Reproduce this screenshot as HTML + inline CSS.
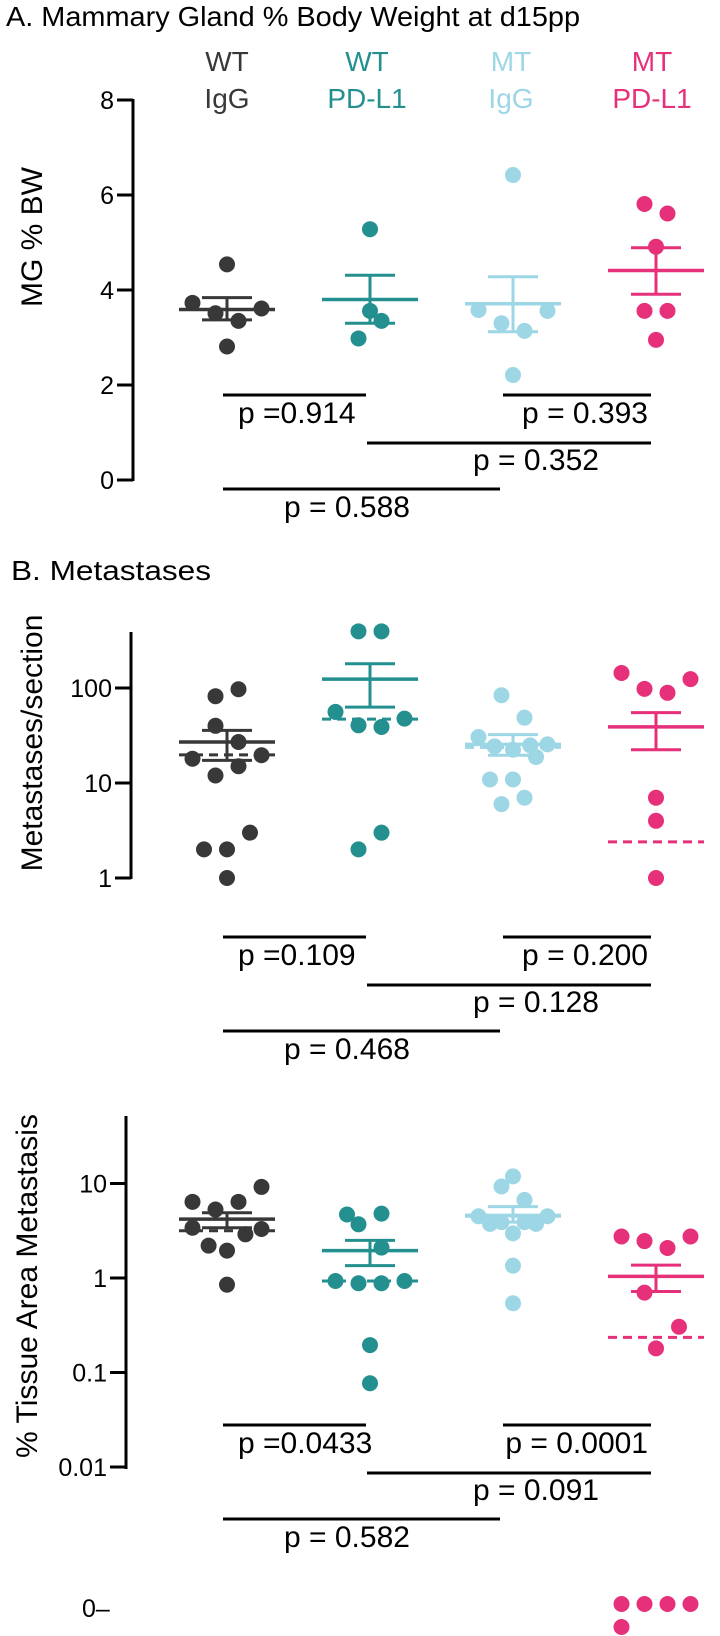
<!DOCTYPE html>
<html><head><meta charset="utf-8">
<style>
html,body{margin:0;padding:0;background:#fff;}
svg{display:block;font-family:"Liberation Sans",Arial,sans-serif;}
</style></head>
<body>
<svg id="fig" width="720" height="1636" viewBox="0 0 720 1636" xmlns="http://www.w3.org/2000/svg">
<text x="6" y="26" font-size="28" textLength="574" lengthAdjust="spacingAndGlyphs">A. Mammary Gland % Body Weight at d15pp</text>
<text x="11" y="580" font-size="28" textLength="200" lengthAdjust="spacingAndGlyphs">B. Metastases</text>
<g font-size="28" text-anchor="middle">
<text x="227" y="71" fill="#383838">WT</text>
<text x="227" y="108" fill="#383838">IgG</text>
<text x="367" y="71" fill="#23908f">WT</text>
<text x="367" y="108" fill="#23908f">PD-L1</text>
<text x="511" y="71" fill="#9dd6e5">MT</text>
<text x="511" y="108" fill="#9dd6e5">IgG</text>
<text x="652" y="71" fill="#e6307a">MT</text>
<text x="652" y="108" fill="#e6307a">PD-L1</text>
</g>
<text transform="translate(42,237) rotate(-90)" font-size="30" text-anchor="middle">MG % BW</text>
<text transform="translate(42,743) rotate(-90)" font-size="30" text-anchor="middle">Metastases/section</text>
<text transform="translate(37,1286) rotate(-90)" font-size="30" text-anchor="middle" textLength="344" lengthAdjust="spacingAndGlyphs">% Tissue Area Metastasis</text>
<g id="plots"></g>
</svg>
<script>
// ---- data ----
const groupNames = ["wt-igg","wt-pdl1","mt-igg","mt-pdl1"];
const colors = ["#383838","#23908f","#9dd6e5","#e6307a"];

const aTicks = [0,2,4,6,8];
const aTickLabels = ["0","2","4","6","8"];
const aWtIgg = [4.54,3.73,3.51,3.61,3.35,2.81];
const aWtPd = [5.28,3.56,3.35,2.98];
const aMtIgg = [6.42,3.58,3.56,3.30,3.14,2.21];
const aMtPd = [5.81,5.61,4.91,3.56,3.56,2.95];
const aMeans = [3.59,3.80,3.71,4.41];
const aSemHi = [3.84,4.31,4.28,4.89];
const aSemLo = [3.37,3.30,3.12,3.91];
const aPvals = ["p =0.914","p = 0.393","p = 0.352","p = 0.588"];

const bTicks = [1,10,100];
const bTickLabels = ["1","10","100"];
const bWtIgg = [97,82,40,27,18,19.6,15,12,3,2,2,1];
const bWtPd = [395,395,56,47.6,40.5,38.9,3,2];
const bMtIgg = [84,48.7,30.5,25.5,24.3,24.9,22.4,18.8,10.9,10.9,7,6];
const bMtPd = [144,124,98,89,7,4,1];
const bMeans = [27,124,25.5,39];
const bSemHi = [35.8,180,32.3,55];
const bSemLo = [17.3,63,19.6,22.4];
const bMedians = [19.8,47,23.7,2.4];
const bPvals = ["p =0.109","p = 0.200","p = 0.128","p = 0.468"];

const cTicks = [0.01,0.1,1,10];
const cTickLabels = ["0.01","0.1","1","10"];
const cWtIgg = [9.2,6.4,6.4,5.3,3.4,3.3,2.9,2.2,1.95,0.85];
const cWtPd = [4.7,4.8,3.7,2.1,0.93,0.88,0.88,0.93,0.195,0.077];
const cMtIgg = [11.9,9.3,6.7,4.5,4.5,3.74,3.9,3.9,3.74,2.97,1.35,0.54];
const cMtPd = [2.75,2.46,2.08,2.75,0.70,0.305,0.18];
const cMtPdZeros = [0,0,0,0,0];
const cMeans = [4.2,1.95,4.6,1.04];
const cSemHi = [4.9,2.5,5.7,1.37];
const cSemLo = [3.4,1.35,3.9,0.72];
const cMedians = [3.16,0.93,4.5,0.235];
const cPvals = ["p =0.0433","p = 0.0001","p = 0.091","p = 0.582"];

// jitter slots (layout, not data)
const jitA = [[0,-3,-1,3,1,0],[0,0,1,-1],[0,-3,3,-1,1,0],[-1,1,0,-1,1,0]];
const jitB = [[1,-1,-1,1,-3,3,1,-1,2,-2,0,0],[-1,1,-3,3,-1,1,1,-1],[-1,1,-3,3,-1.6,1.5,0,2,-2,0,1,-1],[-3,3,-1,1,0,0,0]];
const jitC = [[3,-3,1,-1,-3,3,1.6,-1.6,0,0],[-2,1,-1,1,-3,-1,1,3,0,0],[0,-1,1,-3,3,-2,-1,1,2,0,0,0],[-3,-1,1,3,-1,2,0]];
const jitZero = [-3,-1,1,3,-3];
const rowZero = [0,0,0,0,1];

// ---- drawing ----
const NS="http://www.w3.org/2000/svg";
const root=document.getElementById('plots');
const centers=[227,370,513,656];
const JU=11.5;
function mk(tag,attrs,parent){const e=document.createElementNS(NS,tag);for(const k in attrs)e.setAttribute(k,attrs[k]);(parent||root).appendChild(e);return e;}

const yA = v => 480 - 47.5*v;
const yB = v => 878 - 95*Math.log10(v);
const yC = v => 1278 - 94.5*Math.log10(v);

function axis(panel, ax, top, bottom, ticks, labels, yf){
  const g=mk('g',{});
  
  
  const l=mk('line',{x1:ax,x2:ax,y1:top,y2:bottom,stroke:'#000','stroke-width':3},g);
  
  
  ticks.forEach((t,i)=>{
    const y=yf(t);
    const tk=mk('line',{x1:ax-16,x2:ax,y1:y,y2:y,stroke:'#000','stroke-width':3},g);
    
    
    const tx=mk('text',{x:ax-19,y:y+9,'font-size':25,'text-anchor':'end'},g);
    tx.textContent=labels[i];
    
    
  });
}

function group(panel, gi, vals, jit, yf, mean, hi, lo, med){
  const cx=centers[gi], col=colors[gi];
  const g=mk('g',{});
  
  
  if(med!==undefined && med!==null){
    const m=mk('line',{x1:cx-48,x2:cx+48,y1:yf(med),y2:yf(med),stroke:col,'stroke-width':3,'stroke-dasharray':'9 6'},g);
    
    
  }
  vals.forEach((v,i)=>{
    const c=mk('circle',{cx:cx+jit[i]*JU,cy:yf(v),r:8,fill:col},g);
    
    
  });
  const ml=mk('line',{x1:cx-48,x2:cx+48,y1:yf(mean),y2:yf(mean),stroke:col,'stroke-width':3.5},g);
  
  
  const v=mk('line',{x1:cx,x2:cx,y1:yf(hi),y2:yf(lo),stroke:col,'stroke-width':3},g);
  
  
  [hi,lo].forEach(s=>{
    const c=mk('line',{x1:cx-25,x2:cx+25,y1:yf(s),y2:yf(s),stroke:col,'stroke-width':3},g);
    
    
  });
}

function pbars(panel, y0, pv){
  const g=mk('g',{});
  
  
  const lines=[[223,366,y0],[503,651,y0],[367,651,y0+48],[223,500,y0+94]];
  lines.forEach(l=>{
    const e=mk('line',{x1:l[0],x2:l[1],y1:l[2],y2:l[2],stroke:'#000','stroke-width':3},g);
    
    
  });
  const txt=[[238,y0+28,'start'],[648,y0+28,'end'],[473,y0+75,'start'],[284,y0+122,'start']];
  txt.forEach((t,i)=>{
    const e=mk('text',{x:t[0],y:t[1],'font-size':30,'text-anchor':t[2]},g);
    e.textContent=pv[i];
    
    
  });
}

// Panel A
axis('panel-a',133,99,481,aTicks,aTickLabels,yA);
[aWtIgg,aWtPd,aMtIgg,aMtPd].forEach((d,i)=>group('panel-a',i,d,jitA[i],yA,aMeans[i],aSemHi[i],aSemLo[i],null));
pbars('panel-a',395,aPvals);

// Panel B
axis('panel-b',131,632,879,bTicks,bTickLabels,yB);
[bWtIgg,bWtPd,bMtIgg,bMtPd].forEach((d,i)=>group('panel-b',i,d,jitB[i],yB,bMeans[i],bSemHi[i],bSemLo[i],bMedians[i]));
pbars('panel-b',937,bPvals);

// Panel C
axis('panel-c',126,1116,1469,cTicks,cTickLabels,yC);
[cWtIgg,cWtPd,cMtIgg,cMtPd].forEach((d,i)=>group('panel-c',i,d,jitC[i],yC,cMeans[i],cSemHi[i],cSemLo[i],cMedians[i]));
pbars('panel-c',1425,cPvals);

// zero row
const zl=mk('text',{x:82,y:1617,'font-size':25});
zl.textContent='0–';


cMtPdZeros.forEach((v,i)=>{
  const c=mk('circle',{cx:centers[3]+jitZero[i]*JU,cy:1604+rowZero[i]*23-v,r:8,fill:colors[3]});
  
  
});
</script>
</body></html>
